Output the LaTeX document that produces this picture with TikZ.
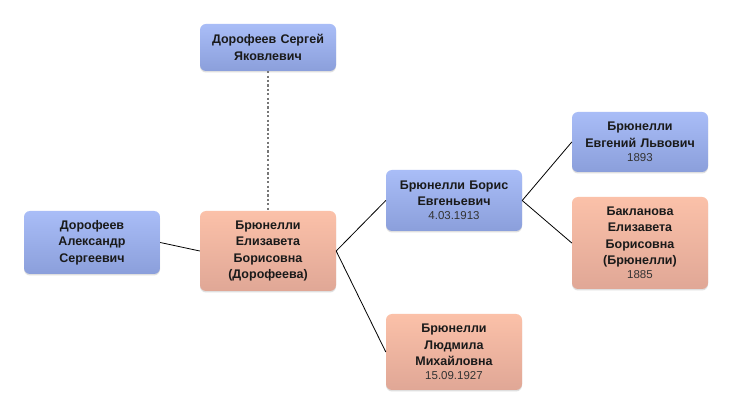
\documentclass[tikz,border=0pt]{standalone}
\usepackage{fontspec}
\setmainfont{Liberation Sans}
\usetikzlibrary{shadows,fadings}
\definecolor{bluetop}{HTML}{A9BDF7}
\definecolor{bluebot}{HTML}{8B9FDB}
\definecolor{saltop}{HTML}{FBC1A9}
\definecolor{salbot}{HTML}{E0A796}
\definecolor{txt}{HTML}{1A1A1A}
\definecolor{datec}{HTML}{333333}
\definecolor{dotc}{HTML}{777777}
\tikzset{
  person/.style={rectangle, rounded corners=6pt, minimum width=136pt, text width=130pt,
    align=center, inner sep=0pt, font=\fontsize{12.5}{16.5}\selectfont\bfseries, text=txt,
    drop shadow={opacity=0.25, shadow xshift=0pt, shadow yshift=-1.5pt}},
  male/.style={person, top color=bluetop, bottom color=bluebot},
  female/.style={person, top color=saltop, bottom color=salbot},
  link/.style={draw=black, line width=0.8pt},
  dotlink/.style={draw=dotc, line width=1.6pt, dash pattern=on 2.2pt off 2.2pt}
}
\newcommand{\pdate}[1]{\\[-2.5pt]{\mdseries\fontsize{11.5}{13}\selectfont\color{datec}#1}}
\begin{document}
\begin{tikzpicture}[x=1pt,y=-1pt]
\useasboundingbox (0,0) rectangle (732,414);
\fill[white] (0,0) rectangle (732,414);
\node[male, minimum height=47pt] (serg) at (268,47.5) {Дорофеев Сергей\\Яковлевич};
\node[male, minimum height=63pt] (alex) at (92,242.5) {Дорофеев\\Александр\\Сергеевич};
\node[female, minimum height=80pt] (eliz) at (268,251) {Брюнелли\\Елизавета\\Борисовна\\(Дорофеева)};
\node[male, minimum height=61pt] (boris) at (454,200.5) {Брюнелли Борис\\Евгеньевич\pdate{4.03.1913}};
\node[male, minimum height=60pt] (evg) at (640,142) {Брюнелли\\Евгений Львович\pdate{1893}};
\node[female, minimum height=92pt] (bakl) at (640,243) {Бакланова\\Елизавета\\Борисовна\\(Брюнелли)\pdate{1885}};
\node[female, minimum height=76pt] (lyud) at (454,352) {Брюнелли\\Людмила\\Михайловна\pdate{15.09.1927}};
\draw[dotlink] (serg.south) -- (eliz.north);
\draw[link] (alex.east) -- (eliz.west);
\draw[link] (eliz.east) -- (boris.west);
\draw[link] (eliz.east) -- (lyud.west);
\draw[link] (boris.east) -- (evg.west);
\draw[link] (boris.east) -- (bakl.west);
\end{tikzpicture}
\end{document}
